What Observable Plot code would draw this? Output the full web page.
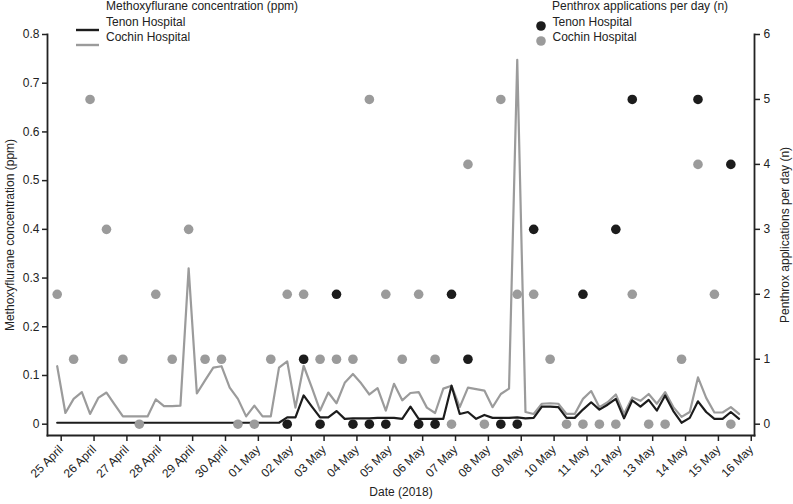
<!DOCTYPE html>
<html><head><meta charset="utf-8">
<script src="https://cdn.jsdelivr.net/npm/d3@7"></script>
<script src="https://cdn.jsdelivr.net/npm/@observablehq/plot@0.6"></script>
<style>
body{margin:0;background:#fff;font-family:"Liberation Sans",Arial,sans-serif;}
#wrap{position:relative;width:793px;height:504px;overflow:hidden;}
.leg{position:absolute;font-size:12px;color:#222;white-space:nowrap;line-height:14px;}
</style></head><body>
<div id="wrap"></div>
<script>
// ---- data ----
const startDate = Date.UTC(2018, 3, 25);
const DAY = 86400000;
const tickLabels = ["25 April","26 April","27 April","28 April","29 April","30 April","01 May","02 May","03 May","04 May","05 May","06 May","07 May","08 May","09 May","10 May","11 May","12 May","13 May","14 May","15 May","16 May"];
const concTicks = [0, 0.1, 0.2, 0.3, 0.4, 0.5, 0.6, 0.7, 0.8];
const appTicks = [0, 1, 2, 3, 4, 5, 6];
const series = ["Tenon Hospital", "Cochin Hospital"];
// methoxyflurane concentration (ppm), one reading every 6 hours from 25 April 00:00
const cochinConc = [0.119,0.023,0.052,0.066,0.021,0.054,0.065,0.040,0.016,0.016,0.016,0.016,0.051,0.037,0.037,0.038,
  0.320,0.063,0.090,0.116,0.119,0.075,0.052,0.016,0.038,0.016,0.016,0.116,0.129,0.034,0.120,0.075,
  0.028,0.065,0.043,0.085,0.103,0.084,0.061,0.074,0.028,0.083,0.049,0.064,0.066,0.034,0.023,0.073,
  0.079,0.035,0.075,0.072,0.069,0.035,0.062,0.073,0.748,0.025,0.021,0.042,0.043,0.042,0.021,0.021,
  0.052,0.068,0.035,0.045,0.061,0.021,0.055,0.048,0.062,0.042,0.066,0.035,0.015,0.025,0.096,0.054,
  0.024,0.024,0.035,0.021];
const tenonConc = [0.003,0.003,0.003,0.003,0.003,0.003,0.003,0.003,0.003,0.003,0.003,0.003,0.003,0.003,0.003,0.003,
  0.003,0.003,0.003,0.003,0.003,0.003,0.003,0.003,0.003,0.003,0.003,0.003,0.014,0.014,0.059,0.036,
  0.014,0.014,0.027,0.011,0.012,0.012,0.012,0.013,0.013,0.013,0.011,0.036,0.011,0.011,0.011,0.011,
  0.079,0.021,0.025,0.011,0.019,0.013,0.013,0.013,0.014,0.012,0.013,0.036,0.036,0.035,0.013,0.013,
  0.030,0.045,0.030,0.040,0.052,0.012,0.049,0.036,0.050,0.028,0.059,0.027,0.003,0.013,0.047,0.025,
  0.011,0.011,0.025,0.011];
// Penthrox applications (n), one value every 12 hours from 25 April 00:00 (null = none shown)
const cochinApps = [2,1,5,3,1,0,2,1,3,1,1,0,0,1,2,2,1,1,1,5,2,1,2,1,0,4,0,5,2,2,1,0,0,0,0,2,0,0,1,4,2,0];
const tenonApps = [null,null,null,null,null,null,null,null,null,null,null,null,null,null,
  0,1,0,2,0,0,0,null,0,0,2,1,null,0,0,3,null,null,2,null,3,5,null,null,null,5,null,4];

// ---- build tables ----
const k = 0.8 / 6; // right-axis units -> left-axis units
const lineRows = [];
[tenonConc, cochinConc].forEach((arr, s) => arr.forEach((v, j) =>
  lineRows.push({t: new Date(startDate + j * DAY / 4), v, s: series[s]})));
const dotRows = [];
[tenonApps, cochinApps].forEach((arr, s) => arr.forEach((n, j) => {
  if (n != null) dotRows.push({t: new Date(startDate + j * DAY / 2), n, s: series[s]});
}));
const tickDates = tickLabels.map((_, i) => new Date(startDate + i * DAY));
const colors = {"Tenon Hospital": "#1c1c1c", "Cochin Hospital": "#9b9b9b"};
const axisColor = "#222";

const chart = Plot.plot({
  width: 793, height: 504,
  marginLeft: 47, marginRight: 39, marginTop: 34, marginBottom: 69,
  style: {fontFamily: "'Liberation Sans', Arial, sans-serif", fontSize: "12px", color: axisColor, background: "#fff"},
  x: {type: "utc", domain: [new Date(startDate - 0.295 * DAY), new Date(startDate + 21.22 * DAY)]},
  y: {domain: [-0.0232, 0.8]},
  marks: [
    Plot.frame({anchor: "left", stroke: axisColor, strokeWidth: 1.8}),
    Plot.frame({anchor: "right", stroke: axisColor, strokeWidth: 1.8}),
    Plot.frame({anchor: "bottom", stroke: axisColor, strokeWidth: 1.8}),
    Plot.axisY({ticks: concTicks, tickFormat: d => String(d), tickSize: 5, tickPadding: 3, strokeWidth: 1.5,
      label: "Methoxyflurane concentration (ppm)", labelAnchor: "center", labelOffset: 42, labelArrow: "none"}),
    Plot.axisY({anchor: "right", ticks: appTicks.map(n => n * k), tickFormat: v => String(Math.round(v / k)),
      tickSize: 5, tickPadding: 4, strokeWidth: 1.5,
      label: "Penthrox applications per day (n)", labelAnchor: "center", labelOffset: 34.5, labelArrow: "none"}),
    Plot.axisX({ticks: tickDates, tickFormat: d => tickLabels[Math.round((d - startDate) / DAY)],
      tickRotate: -45, tickSize: 6, tickPadding: 6, dx: 4, strokeWidth: 1.5,
      label: null}),
    Plot.axisX({ticks: [], label: "Date (2018)", labelAnchor: "center", labelOffset: 60, labelArrow: "none"}),
    Plot.line(lineRows.filter(r => r.s === "Cochin Hospital"), {x: "t", y: "v", stroke: colors["Cochin Hospital"], strokeWidth: 2.2}),
    Plot.line(lineRows.filter(r => r.s === "Tenon Hospital"), {x: "t", y: "v", stroke: colors["Tenon Hospital"], strokeWidth: 2.2}),
    Plot.dot(dotRows.filter(r => r.s === "Cochin Hospital"), {x: "t", y: r => r.n * k, r: 4.8, fill: colors["Cochin Hospital"]}),
    Plot.dot(dotRows.filter(r => r.s === "Tenon Hospital"), {x: "t", y: r => r.n * k, r: 4.8, fill: colors["Tenon Hospital"]})
  ]
});
const wrap = document.getElementById("wrap");
wrap.appendChild(chart);

// ---- legends (overlaid at top) ----
function addText(txt, left, cy) {
  const d = document.createElement("div");
  d.className = "leg"; d.textContent = txt;
  d.style.left = left + "px"; d.style.top = (cy - 7) + "px";
  wrap.appendChild(d);
}
function addSwatch(html, left, top, w, h) {
  const d = document.createElement("div");
  d.style.position = "absolute"; d.style.left = left + "px"; d.style.top = top + "px";
  d.innerHTML = `<svg width="${w}" height="${h}">${html}</svg>`;
  wrap.appendChild(d);
}
addText("Methoxyflurane concentration (ppm)", 106, 6);
series.forEach((s, i) => {
  const cy = 21.7 + i * 15.5;
  addSwatch(`<line x1="0" x2="23" y1="3" y2="3" stroke="${colors[s]}" stroke-width="2.4"/>`, 76, cy - 3, 24, 6);
  addText(s, 106, cy);
});
addText("Penthrox applications per day (n)", 552, 6);
series.forEach((s, i) => {
  const cy = 21.7 + i * 15.5;
  addSwatch(`<circle cx="5" cy="5" r="4.8" fill="${colors[s]}"/>`, 536, cy - 5, 10, 10);
  addText(s, 552.5, cy);
});
</script>
</body></html>
